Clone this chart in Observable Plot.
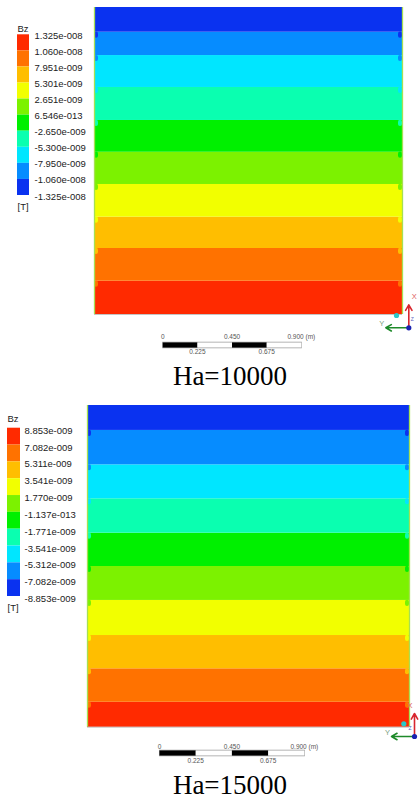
<!DOCTYPE html>
<html><head><meta charset="utf-8">
<script src="https://cdn.jsdelivr.net/npm/d3@7"></script>
<script src="https://cdn.jsdelivr.net/npm/@observablehq/plot@0.6"></script>
<style>
html,body{margin:0;padding:0;background:#fff;}
#root{position:relative;width:419px;height:800px;overflow:hidden;background:#fff;}
.cap{position:absolute;font-family:"Liberation Serif","Times New Roman",serif;font-size:27px;line-height:26px;white-space:nowrap;color:#000;transform:translateX(-50%);}
</style></head><body><div id="root"></div>
<script>
// ---- data ----
// 10 contour colours, from the highest Bz band (bottom, red) to the lowest (top, blue)
const colors = ["#ff2a00","#ff7200","#ffbe00","#f2ff00","#7cf200","#00f000","#0affb0","#00e6ff","#068cff","#0a32f0"];

const levels1 = [1.325e-8, 1.060e-8, 7.951e-9, 5.301e-9, 2.651e-9, 6.546e-13, -2.650e-9, -5.300e-9, -7.950e-9, -1.060e-8, -1.325e-8];
const labels1 = ["1.325e-008","1.060e-008","7.951e-009","5.301e-009","2.651e-009","6.546e-013","-2.650e-009","-5.300e-009","-7.950e-009","-1.060e-008","-1.325e-008"];
const levels2 = [8.853e-9, 7.082e-9, 5.311e-9, 3.541e-9, 1.770e-9, -1.137e-13, -1.771e-9, -3.541e-9, -5.312e-9, -7.082e-9, -8.853e-9];
const labels2 = ["8.853e-009","7.082e-009","5.311e-009","3.541e-009","1.770e-009","-1.137e-013","-1.771e-009","-3.541e-009","-5.312e-009","-7.082e-009","-8.853e-009"];

// contour band boundaries (m, measured up from the bottom wall), red band first
const edges1 = [0, 0.217, 0.430, 0.634, 0.847, 1.057, 1.264, 1.479, 1.687, 1.839, 2.0];
const edges2 = [0, 0.155, 0.363, 0.570, 0.788, 0.999, 1.206, 1.420, 1.631, 1.845, 2.0];

const scaleTicks = [0, 0.225, 0.45, 0.675, 0.9];
const scaleTopTicks = [0, 0.45, 0.9];
const scaleTopLabels = ["0", "0.450", "0.900 (m)"];
const scaleBottomTicks = [0.225, 0.675];
const scaleBottomLabels = ["0.225", "0.675"];

const captions = ["Ha=10000", "Ha=15000"];
const unitLabel = "[T]";
const varLabel = "Bz";

// ---- layout ----
const W = 2, H = 2; // domain size (m)
const panels = [
  {levels: levels1, labels: labels1, edges: edges1, caption: captions[0],
   top: 0, h: 400, mt: 7, mb: 86, ml: 94, mr: 17,
   leg: {top: 0, ml: 17, mr: 65, mt: 34.3, mb: 35, labDx: 5, labDy: 1, titleDy: -10, unitDy: 14},
   barStart: 0.443, barDy: 30.5, topLblDy: 22, botLblDy: 37,
   triad: {dx: 6.3, dy: 13.3}, xLbl: {dx: 3, anchor: "start"}, zLbl: {dx: 2, anchor: "start"},
   cyan: {dx: -6, dy: 1}, capTop: 363},
  {levels: levels2, labels: labels2, edges: edges2, caption: captions[1],
   top: 400, h: 400, mt: 5, mb: 73.3, ml: 87, mr: 10,
   leg: {top: 400, ml: 7, mr: 74, mt: 27.7, mb: 34, labDx: 4, labDy: 2.5, titleDy: -12.7, unitDy: 14},
   barStart: 0.447, barDy: 25.8, topLblDy: 19.5, botLblDy: 33.5,
   triad: {dx: 5, dy: 9.3}, xLbl: {dx: -2, anchor: "end"}, zLbl: {dx: -3, anchor: "end"},
   cyan: {dx: -5.7, dy: -3.4}, capTop: 772}
];

const root = document.getElementById("root");
const sans = "Liberation Sans, Arial, Helvetica, sans-serif";

for (const p of panels) {
  const innerW = 419 - p.ml - p.mr;
  const innerH = p.h - p.mt - p.mb;
  const pxX = innerW / W, pxY = innerH / H;

  const bands = d3.range(10).map(i => ({y1: p.edges[i], y2: p.edges[i + 1], fill: colors[i]}));
  const dip = 6 / pxY, dipW = 4 / pxX;
  const dips = bands.slice(1).flatMap(b => [
    {x1: 0, x2: dipW, y1: b.y1 - dip, y2: b.y1 + 0.001, fill: b.fill},
    {x1: W - dipW, x2: W, y1: b.y1 - dip, y2: b.y1 + 0.001, fill: b.fill}
  ]);
  const segs = d3.range(4).map(i => ({x1: p.barStart + scaleTicks[i], x2: p.barStart + scaleTicks[i + 1], c: i % 2 === 0 ? "#000" : "#fff"}));
  const topLbl = scaleTopTicks.map((t, i) => ({x: p.barStart + t, text: scaleTopLabels[i]}));
  const botLbl = scaleBottomTicks.map((t, i) => ({x: p.barStart + t, text: scaleBottomLabels[i]}));
  const arrowLen = 23;

  const main = Plot.plot({
    width: 419, height: p.h,
    marginTop: p.mt, marginBottom: p.mb, marginLeft: p.ml, marginRight: p.mr,
    x: {domain: [0, W], axis: null},
    y: {domain: [0, H], axis: null},
    color: {type: "identity"},
    marks: [
      Plot.rect(bands, {x1: 0, x2: W, y1: "y1", y2: "y2", fill: "fill"}),
      Plot.rect(dips, {x1: "x1", x2: "x2", y1: "y1", y2: "y2", fill: "fill", rx: 2}),
      Plot.ruleX([0, W], {stroke: "#a6e052", strokeWidth: 1.3}),
      Plot.ruleY([0], {stroke: "#8a8a8a", strokeOpacity: 0.5}),
      // scale bar
      Plot.link([{x1: p.barStart - 0.003, x2: p.barStart + 0.903}], {x1: "x1", x2: "x2", y1: 0, y2: 0, dy: p.barDy, stroke: "#9a9a9a", strokeWidth: 6.5}),
      Plot.link(segs, {x1: "x1", x2: "x2", y1: 0, y2: 0, dy: p.barDy, stroke: "c", strokeWidth: 4.8}),
      Plot.text(topLbl, {x: "x", y: 0, text: "text", dy: p.topLblDy, fontSize: 6.5, fill: "#555", fontFamily: sans}),
      Plot.text(botLbl, {x: "x", y: 0, text: "text", dy: p.botLblDy, fontSize: 6.5, fill: "#555", fontFamily: sans}),
      // axis triad
      Plot.dot([0], {x: W, y: 0, dx: p.cyan.dx, dy: p.cyan.dy, r: 2.6, fill: "#2cc8c8"}),
      Plot.arrow([0], {x1: W, x2: W, y1: 0, y2: arrowLen / pxY, dx: p.triad.dx, dy: p.triad.dy, stroke: "#d8262e", strokeWidth: 1.6, headLength: 6}),
      Plot.arrow([0], {x1: W, x2: W - arrowLen / pxX, y1: 0, y2: 0, dx: p.triad.dx, dy: p.triad.dy, stroke: "#1e8a2a", strokeWidth: 1.6, headLength: 6}),
      Plot.dot([0], {x: W, y: 0, dx: p.triad.dx, dy: p.triad.dy, r: 2.6, fill: "#1a22b0"}),
      Plot.text(["X"], {x: W, y: 0, dx: p.triad.dx + p.xLbl.dx, dy: p.triad.dy - 31, fontSize: 7.5, fill: "#e06060", fontFamily: sans, textAnchor: p.xLbl.anchor}),
      Plot.text(["Y"], {x: W, y: 0, dx: p.triad.dx - 27, dy: p.triad.dy - 4, fontSize: 7.5, fill: "#7aa080", fontFamily: sans}),
      Plot.text(["Z"], {x: W, y: 0, dx: p.triad.dx + p.zLbl.dx, dy: p.triad.dy - 8, fontSize: 5, fill: "#6060c0", fontFamily: sans, textAnchor: p.zLbl.anchor})
    ]
  });
  main.style.position = "absolute";
  main.style.left = "0px";
  main.style.top = p.top + "px";
  main.style.overflow = "visible";
  root.appendChild(main);

  // colour legend
  const lb = d3.range(10).map(i => ({y1: p.levels[i + 1], y2: p.levels[i], fill: colors[i]}));
  const L = p.leg;
  const legend = Plot.plot({
    width: 94, height: 230,
    marginTop: L.mt, marginBottom: L.mb, marginLeft: L.ml, marginRight: L.mr,
    x: {domain: [0, 1], axis: null},
    y: {domain: [p.levels[10], p.levels[0]], axis: null},
    color: {type: "identity"},
    marks: [
      Plot.rect(lb, {x1: 0, x2: 1, y1: "y1", y2: "y2", fill: "fill"}),
      Plot.text(p.labels, {y: (d, i) => p.levels[i], text: d => d, frameAnchor: "right", textAnchor: "start", dx: L.labDx, dy: L.labDy, fontSize: 9.5, fill: "#222", fontFamily: sans}),
      Plot.text([varLabel], {frameAnchor: "top-left", textAnchor: "start", dy: L.titleDy, fontSize: 9.5, fill: "#222", fontFamily: sans}),
      Plot.text([unitLabel], {frameAnchor: "bottom-left", textAnchor: "start", dy: L.unitDy, fontSize: 9.5, fill: "#222", fontFamily: sans})
    ]
  });
  legend.style.position = "absolute";
  legend.style.left = "0px";
  legend.style.top = L.top + "px";
  legend.style.overflow = "visible";
  root.appendChild(legend);

  const cap = document.createElement("div");
  cap.className = "cap";
  cap.textContent = p.caption;
  cap.style.left = "230px";
  cap.style.top = p.capTop + "px";
  root.appendChild(cap);
}
</script></body></html>
